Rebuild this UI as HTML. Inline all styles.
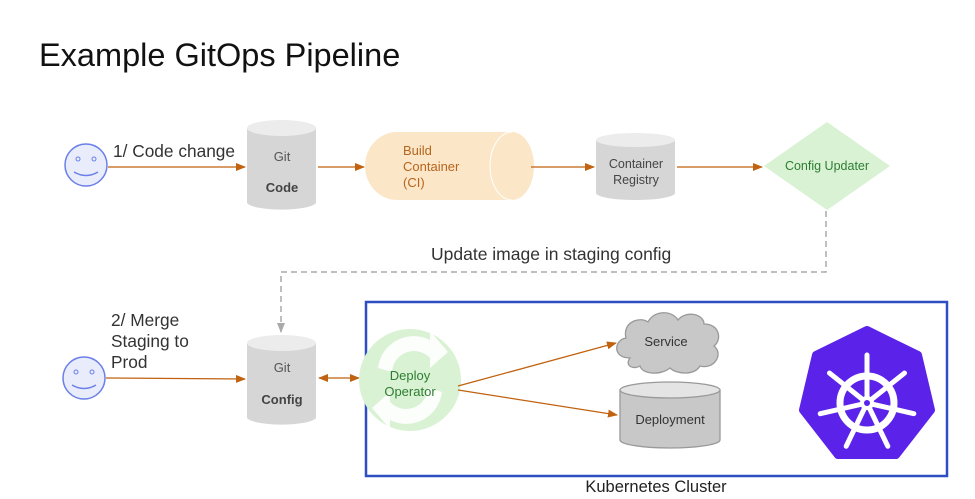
<!DOCTYPE html>
<html><head><meta charset="utf-8"><style>
body{margin:0;background:#fff;}
svg text{font-family:"Liberation Sans",Arial,sans-serif;}
</style></head><body>
<svg width="975" height="494" viewBox="0 0 975 494" xmlns="http://www.w3.org/2000/svg">
<defs>
<marker id="a" markerWidth="10" markerHeight="8" refX="9" refY="4" orient="auto" markerUnits="userSpaceOnUse"><path d="M0,0 L10,4 L0,8 Z" fill="#c0620f"/></marker>
<marker id="as" markerWidth="10" markerHeight="8" refX="1" refY="4" orient="auto" markerUnits="userSpaceOnUse"><path d="M10,0 L0,4 L10,8 Z" fill="#c0620f"/></marker>
<marker id="g" markerWidth="10" markerHeight="8" refX="9" refY="4" orient="auto" markerUnits="userSpaceOnUse"><path d="M0,0 L10,4 L0,8 Z" fill="#aaa"/></marker>
</defs>
<text x="39" y="66" font-size="32.5" fill="#111">Example GitOps Pipeline</text>

<circle cx="86" cy="165" r="21" fill="#e8ecfb" stroke="#6b7fe8" stroke-width="1.5"/>
<circle cx="78" cy="159" r="2" fill="none" stroke="#6b7fe8"/><circle cx="94" cy="159" r="2" fill="none" stroke="#6b7fe8"/>
<path d="M74,172 Q86,179 98,172" fill="none" stroke="#6b7fe8" stroke-width="1.5"/>
<text x="113" y="157" font-size="17.3" fill="#333">1/ Code change</text>
<line x1="108" y1="167" x2="245" y2="167" stroke="#c0620f" stroke-width="1.3" marker-end="url(#a)"/>

<path d="M247,128 L247,203 A35,8 0 0 0 316,203 L316,128 Z" fill="#d6d6d6"/>
<ellipse cx="281.5" cy="128" rx="34.5" ry="8" fill="#ececec"/>
<text x="282" y="161" font-size="13" fill="#555" text-anchor="middle">Git</text>
<text x="282" y="192" font-size="13" fill="#444" font-weight="bold" text-anchor="middle">Code</text>
<line x1="318" y1="167" x2="364" y2="167" stroke="#c0620f" stroke-width="1.3" marker-end="url(#a)"/>

<path d="M397,132 L512,132 A22,34 0 0 1 512,200 L397,200 A32,34 0 0 1 397,132 Z" fill="#fce6c8"/>
<path d="M512,132 A22,34 0 0 0 512,200" fill="none" stroke="#fff" stroke-width="1"/>
<text x="403" y="155" font-size="13" fill="#b5651d">Build</text>
<text x="403" y="171" font-size="13" fill="#b5651d">Container</text>
<text x="403" y="187" font-size="13" fill="#b5651d">(CI)</text>
<line x1="531" y1="167" x2="594" y2="167" stroke="#c0620f" stroke-width="1.3" marker-end="url(#a)"/>

<path d="M596,140 L596,193 A39.5,7 0 0 0 675,193 L675,140 Z" fill="#d6d6d6"/>
<ellipse cx="635.5" cy="140" rx="39.5" ry="7" fill="#ececec"/>
<text x="636" y="168" font-size="12.5" fill="#444" text-anchor="middle">Container</text>
<text x="636" y="184" font-size="12.5" fill="#444" text-anchor="middle">Registry</text>
<line x1="677" y1="167" x2="762" y2="167" stroke="#c0620f" stroke-width="1.3" marker-end="url(#a)"/>

<polygon points="827,122 890,166 827,210 764,166" fill="#d9f2d4"/>
<text x="827" y="170" font-size="12.5" fill="#2e7d32" text-anchor="middle">Config Updater</text>

<path d="M826,211 L826,272 L281,272 L281,332" fill="none" stroke="#aaa" stroke-width="1.5" stroke-dasharray="6,4" marker-end="url(#g)"/>
<text x="431" y="260" font-size="17.5" fill="#333">Update image in staging config</text>

<circle cx="84" cy="378" r="21" fill="#e8ecfb" stroke="#6b7fe8" stroke-width="1.5"/>
<circle cx="76" cy="372" r="2" fill="none" stroke="#6b7fe8"/><circle cx="92" cy="372" r="2" fill="none" stroke="#6b7fe8"/>
<path d="M72,385 Q84,392 96,385" fill="none" stroke="#6b7fe8" stroke-width="1.5"/>
<text x="111" y="326" font-size="17.3" fill="#333">2/ Merge</text>
<text x="111" y="347" font-size="17.3" fill="#333">Staging to</text>
<text x="111" y="368" font-size="17.3" fill="#333">Prod</text>
<line x1="106" y1="378" x2="245" y2="379" stroke="#c0620f" stroke-width="1.3" marker-end="url(#a)"/>

<path d="M247,343 L247,418 A35,8 0 0 0 316,418 L316,343 Z" fill="#d6d6d6"/>
<ellipse cx="281.5" cy="343" rx="34.5" ry="8" fill="#ececec"/>
<text x="282" y="372" font-size="13" fill="#555" text-anchor="middle">Git</text>
<text x="282" y="404" font-size="13" fill="#444" font-weight="bold" text-anchor="middle">Config</text>
<line x1="319" y1="378" x2="359" y2="378" stroke="#c0620f" stroke-width="1.3" marker-start="url(#as)" marker-end="url(#a)"/>

<rect x="366" y="302" width="581" height="174" fill="none" stroke="#2e4fc4" stroke-width="2.5"/>
<text x="656" y="492" font-size="16.5" fill="#222" text-anchor="middle">Kubernetes Cluster</text>

<circle cx="410" cy="380" r="51" fill="#d9f2d4"/>
<path d="M378,368 A36,36 0 0 1 430,340 L430,331 L448,352 L430,368 L430,358 A22,22 0 0 0 392,372 Z" fill="#fff" opacity="0.9"/>
<path d="M442,392 A36,36 0 0 1 390,420 L390,429 L372,408 L390,392 L390,402 A22,22 0 0 0 428,388 Z" fill="#fff" opacity="0.9"/>
<text x="410" y="380" font-size="13" fill="#2e7d32" text-anchor="middle">Deploy</text>
<text x="410" y="396" font-size="13" fill="#2e7d32" text-anchor="middle">Operator</text>
<line x1="458" y1="386" x2="616" y2="343" stroke="#c0620f" stroke-width="1.3" marker-end="url(#a)"/>
<line x1="458" y1="390" x2="617" y2="415" stroke="#c0620f" stroke-width="1.3" marker-end="url(#a)"/>

<path d="M630,358 C612,358 614,340 626,338 C622,322 640,316 648,322 C654,310 672,310 678,320 C686,310 704,314 704,324 C720,324 722,340 714,346 C724,354 714,370 700,366 C694,376 676,374 670,368 C660,376 642,374 640,366 C634,370 624,366 630,358 Z" fill="#c8c8c8" stroke="#999" stroke-width="1.3"/>
<text x="666" y="346" font-size="13" fill="#333" text-anchor="middle">Service</text>

<path d="M620,390 L620,440 A50,8 0 0 0 720,440 L720,390 Z" fill="#c8c8c8" stroke="#999" stroke-width="1.3"/>
<ellipse cx="670" cy="390" rx="50" ry="8" fill="#e4e4e4" stroke="#999" stroke-width="1.3"/>
<text x="670" y="424" font-size="13" fill="#333" text-anchor="middle">Deployment</text>

<polygon points="867,330 918,355 931,410 896,455 838,455 803,410 816,355" fill="#5b22ea" stroke="#5b22ea" stroke-width="8" stroke-linejoin="round"/>
<g stroke="#fff" stroke-width="5" stroke-linecap="round" fill="none">
<circle cx="867" cy="403" r="27" stroke-width="7"/>
<g id="sp">
<line x1="867" y1="403" x2="867" y2="355"/>
</g>
<use href="#sp" transform="rotate(51.4 867 403)"/>
<use href="#sp" transform="rotate(102.8 867 403)"/>
<use href="#sp" transform="rotate(154.3 867 403)"/>
<use href="#sp" transform="rotate(205.7 867 403)"/>
<use href="#sp" transform="rotate(257.1 867 403)"/>
<use href="#sp" transform="rotate(308.6 867 403)"/>
</g>
<circle cx="867" cy="403" r="7" fill="#fff"/>
<circle cx="867" cy="403" r="3" fill="#5b22ea"/>
</svg>
</body></html>
